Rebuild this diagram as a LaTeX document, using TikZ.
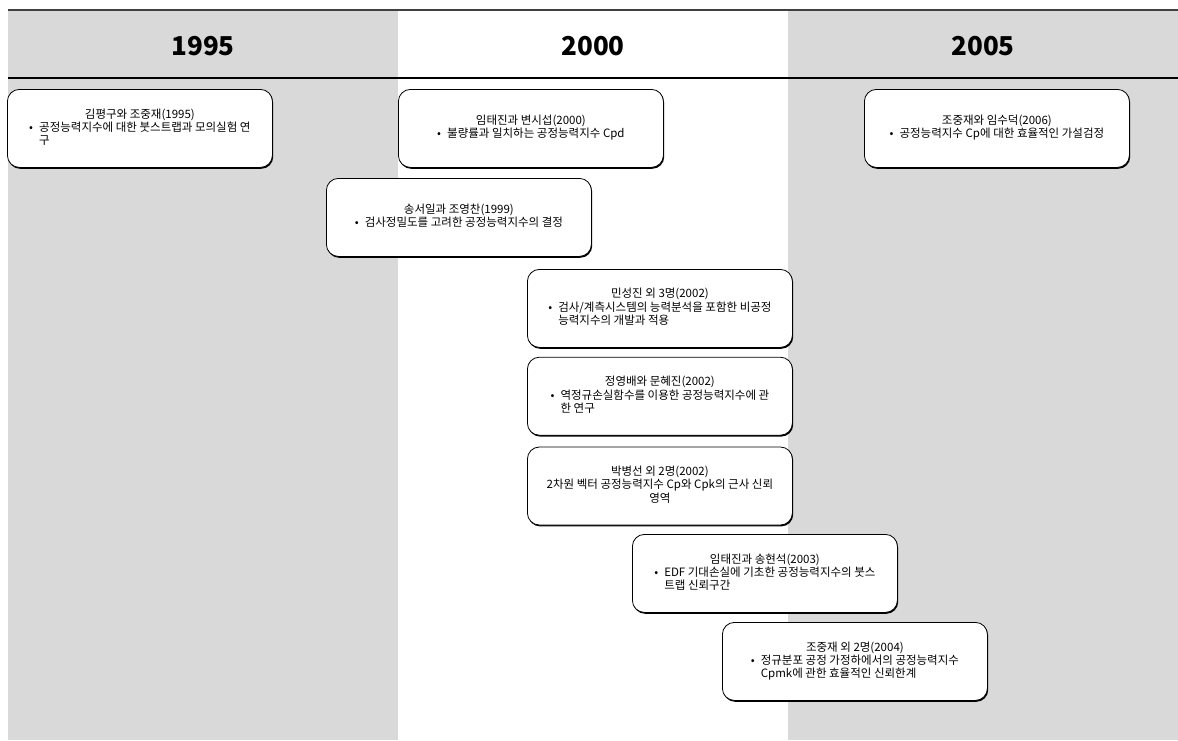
\documentclass[tikz,border=0pt]{standalone}
\usepackage{fontspec}
\setmainfont{Noto Sans CJK KR}
\usepackage{tikz}
\usetikzlibrary{positioning,shadows}
\definecolor{colgray}{HTML}{D9D9D9}
\newcommand{\evt}[2]{\begin{tabular}{@{}l@{}}\multicolumn{1}{@{}c@{}}{#1}\\#2\end{tabular}}
\newcommand{\evc}[2]{\begin{tabular}{@{}c@{}}#1\\#2\end{tabular}}
\newcommand{\bul}{\makebox[10pt][l]{•}}
\newcommand{\hang}{\hspace*{10pt}}

\begin{document}
\begin{tikzpicture}[x=1pt,y=-1pt,
    event/.style={draw, fill=white, rounded corners=12pt, line width=0.8pt,
        minimum width=265pt, minimum height=78pt, inner sep=0pt, anchor=north west,
        font=\fontsize{11.5}{12.5}\selectfont,
        drop shadow={shadow xshift=0.8pt, shadow yshift=-1.4pt, fill=black, opacity=1}},
    year/.style={font=\fontsize{26}{30}\selectfont\bfseries}]
    \useasboundingbox (0,0) rectangle (1178,740);
    \fill[colgray] (8,10) rectangle (398,740);
    \fill[colgray] (788,10) rectangle (1178,740);
    \draw[line width=2.5pt, black!75] (8,10) -- (1178,10);
    \draw[line width=1.2pt] (8,78) -- (1178,78);

    \node[year] (y1995) at (203,46) {1995};
    \node[year] (y2000) at (593,46) {2000};
    \node[year] (y2005) at (983,46) {2005};

    \node[event] (kim95) at (7,89) {\evt{김평구와 조중재(1995)}{\bul 공정능력지수에 대한 붓스트랩과 모의실험 연\\\hang 구}};
    \node[event] (lim00) at (398,89) {\evt{임태진과 변시섭(2000)}{\bul 불량률과 일치하는 공정능력지수 Cpd}};
    \node[event] (cho06) at (864,89) {\evt{조중재와 임수덕(2006)}{\bul 공정능력지수 Cp에 대한 효율적인 가설검정}};
    \node[event] (song99) at (326,178) {\evt{송서일과 조영찬(1999)}{\bul 검사정밀도를 고려한 공정능력지수의 결정}};
    \node[event] (min02) at (527,269) {\evt{민성진 외 3명(2002)}{\bul 검사/계측시스템의 능력분석을 포함한 비공정\\\hang 능력지수의 개발과 적용}};
    \node[event] (jung02) [below=9pt of min02] {\evt{정영배와 문혜진(2002)}{\bul 역정규손실함수를 이용한 공정능력지수에 관\\\hang 한 연구}};
    \node[event] (park02) [below=11pt of jung02] {\evc{박병선 외 2명(2002)}{2차원 벡터 공정능력지수 Cp와 Cpk의 근사 신뢰\\영역}};
    \node[event] (lim03) at (632,534) {\evt{임태진과 송현석(2003)}{\bul EDF 기대손실에 기초한 공정능력지수의 붓스\\\hang 트랩 신뢰구간}};
    \node[event] (cho04) at (722,622) {\evt{조중재 외 2명(2004)}{\bul 정규분포 공정 가정하에서의 공정능력지수\\\hang Cpmk에 관한 효율적인 신뢰한계}};
\end{tikzpicture}
\end{document}
